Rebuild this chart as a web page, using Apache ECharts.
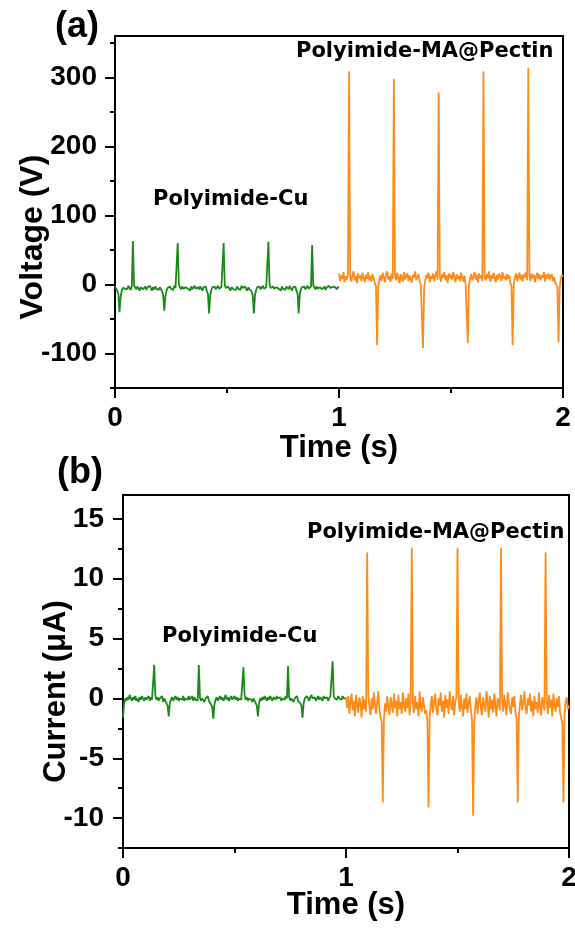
<!DOCTYPE html>
<html>
<head>
    <meta charset="utf-8" />
    <title></title>
    <script src="https://cdn.jsdelivr.net/npm/echarts@6/dist/echarts.min.js"></script>
    <style>
        html, body {
            width: 100%;
            height: 100%;
            margin: 0px;
            padding: 0px;
            background: #fff;
        }
        #main {
            width: 575px;
            height: 928px;
        }
    </style>
</head>
<body>
    <div id="main"></div>
</body>
<script type="text/javascript">
    var timeStep = 0.005;
    var cuStart = 0;
    var maStart = 1;

    // (a) voltage, V
    var voltCu = [
        -3, -6, -9, -14, -40, -18, -9, -5, -3, -6,
        -4, -7, -2, -5, -8, -3, 63, -1, -4, -7,
        -3, -6, -9, -4, -2, -7, -5, -3, -8, -4,
        -6, -2, -5, -9, -4, -7, -3, -6, -5, -8,
        -4, -7, -10, -15, -38, -17, -9, -5, -7, -3,
        -6, -4, -8, -2, -5, -3, 60, 0, -4, -7,
        -3, -6, -8, -4, -2, -6, -5, -9, -3, -7,
        -5, -2, -6, -8, -4, -7, -3, -5, -9, -4,
        -6, -3, -9, -14, -42, -16, -8, -4, -6, -3,
        -7, -5, -2, -6, -8, -4, -3, 60, -1, -5,
        -7, -3, -6, -9, -4, -2, -7, -5, -8, -3,
        -6, -4, -8, -2, -5, -7, -3, -6, -9, -4,
        -7, -5, -10, -16, -42, -15, -8, -4, -6, -3,
        -7, -5, -2, -6, -8, -4, -3, 62, 0, -5,
        -7, -3, -6, -8, -4, -2, -6, -5, -9, -3,
        -6, -4, -8, -3, -5, -7, -2, -6, -9, -4,
        -6, -3, -9, -13, -42, -14, -7, -4, -6, -3,
        -7, -5, -2, -6, -8, -3, 57, -1, -4, -7,
        -3, -6, -8, -4, -2, -7, -5, -3, -8, -4,
        -6, -2, -5, -7, -4, -6, -3, -5, -7, -4,
        -4
    ];
    var voltMa = [
        16, 5, 13, 8, 18, 3, 12, 7, 15, 309,
        11, 4, 14, 19, 6, 12, 2, 16, 9, 13,
        5, 17, 10, 3, 14, 8, 18, 6, 12, 4,
        15, 9, 2, -3, -88, -4, 7, 13, 5, 17,
        10, 3, 14, 19, 7, 12, 4, 16, 8, 298,
        13, 6, 17, 9, 2, 15, 11, 4, 18, 7,
        12, 16, 5, 13, 8, 3, 14, 10, 19, 6,
        11, 15, 4, 0, -2, -92, -5, 6, 14, 9,
        17, 3, 12, 8, 16, 5, 13, 19, 7, 278,
        12, 4, 15, 10, 18, 6, 13, 2, 16, 9,
        14, 7, 18, 11, 3, 15, 8, 12, 5, 17,
        10, 4, 13, 1, -1, -85, -2, 8, 15, 6,
        12, 18, 7, 14, 3, 16, 9, 13, 5, 309,
        11, 6, 15, 9, 19, 4, 13, 8, 17, 10,
        3, 14, 7, 16, 11, 5, 18, 9, 12, 6,
        15, 8, 13, 2, -3, -88, -1, 10, 16, 5,
        12, 17, 7, 14, 4, 15, 10, 18, 6, 314,
        13, 5, 16, 9, 14, 3, 12, 17, 8, 15,
        6, 13, 10, 18, 4, 14, 9, 16, 7, 12,
        15, 5, 11, 3, 0, -4, -84, -6, 8, 14,
        11
    ];

    // (b) current, uA
    var currCu = [
        -1.6, -0.4, 0.0, -0.2, 0.1, -0.1, 0.3, 0.0, -0.2, 0.1,
        -0.1, 0.2, -0.2, 0.0, -0.3, 0.1, -0.1, 0.2, 0.0, -0.2,
        0.1, -0.1, 0.0, 0.2, -0.2, 0.1, -0.1, 0.0, 2.8, 0.2,
        -0.1, 0.1, -0.2, 0.0, -0.1, 0.2, -0.3, 0.0, -0.2, -0.4,
        -0.6, -1.5, -0.4, -0.1, 0.1, -0.2, 0.0, 0.2, -0.1, 0.1,
        -0.2, 0.0, 0.1, -0.1, 0.2, -0.2, 0.0, 0.1, -0.1, 0.2,
        -0.1, 0.0, 0.2, -0.2, 0.1, -0.1, 0.0, -0.2, 2.8, 0.1,
        -0.2, 0.0, 0.1, -0.3, 0.0, -0.1, 0.2, -0.2, -0.3, -0.5,
        -0.7, -1.7, -0.5, -0.1, 0.1, -0.2, 0.0, 0.2, -0.1, 0.1,
        -0.2, 0.0, 0.3, -0.1, 0.1, -0.2, 0.0, 0.2, -0.1, 0.0,
        0.2, -0.1, 0.1, -0.2, 0.0, 0.1, -0.1, 0.0, 2.6, 0.3,
        -0.1, 0.1, -0.2, 0.0, 0.1, -0.1, -0.3, 0.0, -0.2, -0.4,
        -0.6, -1.5, -0.4, 0.0, -0.2, 0.1, -0.1, 0.2, 0.0, -0.2,
        0.1, -0.1, 0.2, 0.0, -0.2, 0.1, 0.0, -0.1, 0.2, 0.0,
        -0.1, 0.1, -0.2, 0.0, 0.1, -0.1, 0.2, 0.0, 2.7, 0.1,
        -0.2, 0.0, 0.1, -0.3, 0.0, -0.1, 0.2, -0.2, -0.3, -0.4,
        -0.6, -1.6, -0.4, 0.0, -0.1, 0.2, 0.0, -0.2, 0.1, 0.3,
        0.0, -0.1, 0.1, -0.2, 0.0, 0.2, -0.1, 0.1, 0.0, -0.2,
        0.2, 0.0, -0.1, 0.1, -0.2, 0.0, 0.2, 0.1, 3.1, 0.2,
        0.0, 0.1, -0.1, 0.2, 0.0, 0.1, -0.1, 0.2, 0.0, 0.1,
        0.0
    ];
    var currMa = [
        0.1, -0.8, 0.2, -1.3, -0.3, 0.4, -1.0, -0.2, -1.5, 0.3,
        -0.6, -1.2, 0.1, -0.4, -1.6, 0.2, -0.9, -0.1, -1.1, 12.2,
        0.3, -0.7, -1.4, 0.0, -0.9, 0.5, -0.5, -1.3, -0.2, 0.6,
        -1.0, -1.6, -2.0, -8.7, -1.8, -0.4, -1.1, 0.2, -0.7, -1.4,
        0.1, -0.5, -1.2, 0.4, -0.8, -0.2, -1.5, 0.3, -0.9, -0.3,
        -1.3, 0.5, -0.6, -1.1, 0.0, -0.8, 0.4, -1.4, -0.2, 12.6,
        -0.4, -1.2, 0.2, -0.9, -0.3, -1.5, 0.6, -0.7, -1.1, 0.1,
        -0.6, -1.3, -1.0, -1.9, -9.1, -1.7, -0.5, 0.2, -1.2, -0.3,
        0.4, -0.9, -1.4, 0.0, -0.6, 0.5, -1.1, -0.2, -1.6, 0.3,
        -0.8, -0.1, -1.3, 0.6, -0.5, -1.0, 0.2, -1.4, -0.3, 0.1,
        12.6, -0.2, -1.1, 0.3, -0.7, -1.5, 0.0, -0.9, 0.4, -1.2,
        -0.4, 0.2, -1.0, -1.8, -9.8, -2.0, -0.6, 0.1, -1.3, -0.2,
        0.5, -0.8, -1.4, 0.1, -0.5, -1.1, 0.6, -0.3, -1.6, 0.2,
        -0.9, -0.1, -1.2, 0.4, -0.7, -1.5, 0.0, -0.4, -1.0, 12.6,
        -0.3, -1.1, 0.3, -0.6, -1.4, 0.5, -0.2, -0.9, -1.3, 0.1,
        -0.7, 0.2, -1.2, -1.7, -8.7, -1.6, -0.5, 0.3, -1.0, -0.4,
        0.6, -0.8, -1.3, 0.0, -0.6, 0.4, -1.1, -0.2, -1.5, 0.2,
        -0.9, -0.3, -1.2, 0.5, -0.7, -1.4, 0.1, -0.5, -1.0, 12.2,
        -0.2, -1.3, 0.3, -0.8, -0.1, -1.5, 0.4, -0.6, -1.1, 0.0,
        -0.7, 0.2, -1.2, -1.6, -2.1, -8.7, -1.4, -0.3, 0.1, -0.9,
        -0.6
    ];

    var timeMajor = [0, 1, 2];
    var timeMinor = [0.5, 1.5];
    var voltMajor = [-100, 0, 100, 200, 300];
    var voltMinor = [-150, -50, 50, 150, 250, 350];
    var currMajor = [-10, -5, 0, 5, 10, 15];
    var currMinor = [-12.5, -7.5, -2.5, 2.5, 7.5, 12.5];

    var green = '#1a8a1a';
    var orange = '#ff8c1a';
    var labelFont = 'Liberation Sans';
    var noteFont = 'DejaVu Sans';

    function toPairs(values, t0) {
        return values.map(function (v, i) {
            return [+(t0 + i * timeStep).toFixed(3), v];
        });
    }

    function minorAxis(grid, pos, min, max, ticks) {
        return {
            type: 'value', gridIndex: grid, position: pos, min: min, max: max,
            axisLine: { show: true, onZero: false, lineStyle: { color: '#000', width: 2 } },
            axisTick: { show: true, inside: false, length: 5, customValues: ticks, lineStyle: { color: '#000', width: 2 } },
            axisLabel: { show: false },
            splitLine: { show: false }
        };
    }

    function majorAxis(grid, pos, min, max, ticks, name, nameSize, nameGap, labelMargin, namePad) {
        return {
            type: 'value', gridIndex: grid, position: pos, min: min, max: max,
            name: name, nameLocation: 'middle', nameGap: nameGap, nameMoveOverlap: false,
            nameTextStyle: { fontFamily: labelFont, fontWeight: 'bold', fontSize: nameSize, color: '#000', padding: namePad || 0 },
            axisLine: { show: true, onZero: false, lineStyle: { color: '#000', width: 2 } },
            axisTick: { show: true, inside: false, length: 10, customValues: ticks, lineStyle: { color: '#000', width: 2 } },
            axisLabel: {
                show: true, customValues: ticks, margin: labelMargin,
                fontFamily: labelFont, fontWeight: 'bold', fontSize: 28, color: '#000'
            },
            splitLine: { show: false }
        };
    }

    function note(text, x, y) {
        return {
            type: 'text', x: x, y: y,
            style: { text: text, fontFamily: noteFont, fontWeight: 'bold', fontSize: 21, fill: '#000', verticalAlign: 'middle' }
        };
    }

    function panelTag(text, x, y) {
        return {
            type: 'text', x: x, y: y,
            style: { text: text, fontFamily: labelFont, fontWeight: 'bold', fontSize: 36, fill: '#000' }
        };
    }

    function trace(data, color, xi, yi) {
        return {
            type: 'line', data: data, xAxisIndex: xi, yAxisIndex: yi,
            showSymbol: false, silent: true, sampling: null,
            lineStyle: { color: color, width: 1.8 }
        };
    }

    var myChart = echarts.init(document.getElementById('main'), null, { renderer: 'canvas' });

    myChart.setOption({
        animation: false,
        backgroundColor: '#fff',
        grid: [
            { left: 115, top: 36, width: 448, height: 352, show: true, borderColor: '#000', borderWidth: 2, outerBoundsMode: 'none', containLabel: false },
            { left: 123, top: 495, width: 446, height: 353, show: true, borderColor: '#000', borderWidth: 2, outerBoundsMode: 'none', containLabel: false }
        ],
        xAxis: [
            minorAxis(0, 'bottom', 0, 2, timeMinor),
            majorAxis(0, 'bottom', 0, 2, timeMajor, 'Time (s)', 31, 45, 16),
            minorAxis(1, 'bottom', 0, 2, timeMinor),
            majorAxis(1, 'bottom', 0, 2, timeMajor, 'Time (s)', 31, 42, 16)
        ],
        yAxis: [
            minorAxis(0, 'left', -150, 360, voltMinor),
            majorAxis(0, 'left', -150, 360, voltMajor, 'Voltage (V)', 32, 66, 18, [0, 50, 0, 0]),
            minorAxis(1, 'left', -12.5, 17, currMinor),
            majorAxis(1, 'left', -12.5, 17, currMajor, 'Current (\u03bcA)', 31, 51, 19, [0, 40, 0, 0])
        ],
        graphic: [
            panelTag('(a)', 55, 9),
            panelTag('(b)', 57, 455),
            note('Polyimide-Cu', 153, 200),
            note('Polyimide-MA@Pectin', 296, 52),
            note('Polyimide-Cu', 162, 637),
            note('Polyimide-MA@Pectin', 307, 533)
        ],
        series: [
            trace(toPairs(voltCu, cuStart), green, 0, 0),
            trace(toPairs(voltMa, maStart), orange, 0, 0),
            trace(toPairs(currCu, cuStart), green, 2, 2),
            trace(toPairs(currMa, maStart), orange, 2, 2)
        ]
    });

    window.addEventListener('resize', function () {
        myChart.resize();
    });
</script>
</html>
